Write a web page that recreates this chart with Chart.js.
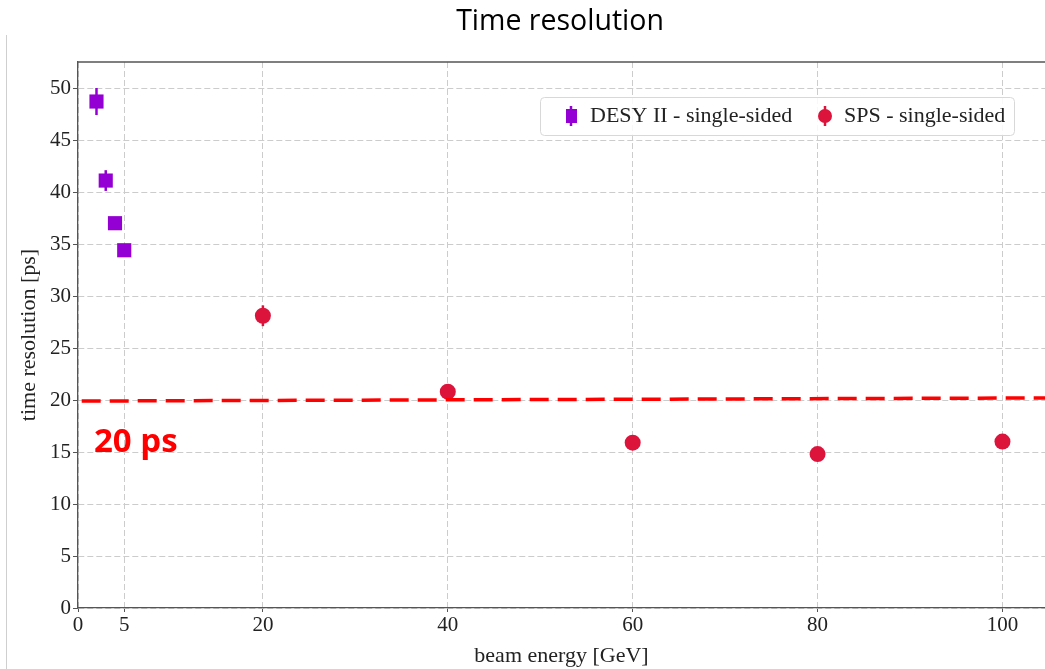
<!DOCTYPE html>
<html>
<head>
<meta charset="utf-8">
<script src="https://cdn.jsdelivr.net/npm/chart.js@4.4.0/dist/chart.umd.min.js"></script>
<style>
html, body { margin: 0; padding: 0; background: #fff; overflow: hidden; }
#wrap { width: 1045px; height: 669px; position: relative; }
</style>
</head>
<body>
<div id="wrap"><canvas id="myChart"></canvas></div>
<script>
// data
var desyEnergy = [2, 3, 4, 5];
var desyRes = [48.7, 41.1, 37.0, 34.4];
var desyErr = [1.3, 1.0, 0.4, 0.4];
var spsEnergy = [20, 40, 60, 80, 100];
var spsRes = [28.1, 20.8, 15.9, 14.8, 16.0];
var spsErr = [1.0, 0.5, 0.4, 0.4, 0.4];
var limitEnergy = [0.4, 104.6];
var limitRes = [19.9, 20.2];
var xTicks = [0, 5, 20, 40, 60, 80, 100];
var yTicks = [0, 5, 10, 15, 20, 25, 30, 35, 40, 45, 50];

var desyColor = "#9400d3";
var spsColor = "#dc143c";
var serif = "'Liberation Serif', 'DejaVu Serif', serif";

function pts(xs, ys) {
  return xs.map(function (x, i) { return { x: x, y: ys[i] }; });
}

var extras = {
  id: "extras",
  beforeDraw: function (chart) {
    var ctx = chart.ctx;
    ctx.save();
    // slide edge line
    ctx.strokeStyle = "#cfcfcf";
    ctx.lineWidth = 1;
    ctx.beginPath();
    ctx.moveTo(6.5, 35);
    ctx.lineTo(6.5, 669);
    ctx.stroke();
    // title
    ctx.fillStyle = "#000";
    ctx.font = "28.5px 'Open Sans', sans-serif";
    ctx.textAlign = "center";
    ctx.textBaseline = "middle";
    ctx.fillText("Time resolution", 560, 22);
    ctx.restore();
  },
  beforeDatasetsDraw: function (chart) {
    var ctx = chart.ctx;
    var xs = chart.scales.x, ys = chart.scales.y;
    ctx.save();
    ctx.lineWidth = 2.5;
    [[desyEnergy, desyRes, desyErr, desyColor], [spsEnergy, spsRes, spsErr, spsColor]].forEach(function (s) {
      ctx.strokeStyle = s[3];
      s[0].forEach(function (e, i) {
        var px = xs.getPixelForValue(e);
        ctx.beginPath();
        ctx.moveTo(px, ys.getPixelForValue(s[1][i] - s[2][i]));
        ctx.lineTo(px, ys.getPixelForValue(s[1][i] + s[2][i]));
        ctx.stroke();
      });
    });
    ctx.restore();
  },
  afterDraw: function (chart) {
    var ctx = chart.ctx;
    var a = chart.chartArea;
    ctx.save();
    // top frame line
    ctx.strokeStyle = "#555";
    ctx.lineWidth = 1.3;
    ctx.beginPath();
    ctx.moveTo(a.left, a.top);
    ctx.lineTo(a.right, a.top);
    ctx.stroke();

    // legend
    ctx.fillStyle = "rgba(255,255,255,0.85)";
    ctx.strokeStyle = "#d8d8d8";
    ctx.lineWidth = 1;
    ctx.beginPath();
    ctx.roundRect(540.5, 97.5, 474, 38, 4);
    ctx.fill();
    ctx.stroke();

    ctx.font = "22px " + serif;
    ctx.textBaseline = "middle";
    ctx.textAlign = "left";
    var ly = 116;
    // DESY entry
    ctx.fillStyle = desyColor;
    ctx.strokeStyle = desyColor;
    ctx.lineWidth = 2.5;
    ctx.beginPath(); ctx.moveTo(571, ly - 10); ctx.lineTo(571, ly + 10); ctx.stroke();
    ctx.fillRect(566, ly - 7, 11, 14);
    ctx.fillStyle = "#222";
    ctx.fillText(chart.data.datasets[0].label, 590, ly);
    // SPS entry
    ctx.fillStyle = spsColor;
    ctx.strokeStyle = spsColor;
    ctx.beginPath(); ctx.moveTo(825, ly - 10); ctx.lineTo(825, ly + 10); ctx.stroke();
    ctx.beginPath(); ctx.arc(825, ly, 7, 0, Math.PI * 2); ctx.fill();
    ctx.fillStyle = "#222";
    ctx.fillText(chart.data.datasets[1].label, 844, ly);

    // 20 ps label
    ctx.fillStyle = "#ff0000";
    ctx.font = "bold 33px 'Open Sans', sans-serif";
    ctx.textBaseline = "alphabetic";
    ctx.fillText("20 ps", 94, 452);
    ctx.restore();
  }
};

new Chart("myChart", {
  type: "scatter",
  data: {
    datasets: [
      {
        label: "DESY II - single-sided",
        data: pts(desyEnergy, desyRes),
        pointStyle: "rect",
        pointRadius: 10,
        pointHoverRadius: 10,
        backgroundColor: desyColor,
        borderColor: desyColor,
        borderWidth: 0,
        order: 2
      },
      {
        label: "SPS - single-sided",
        data: pts(spsEnergy, spsRes),
        pointStyle: "circle",
        pointRadius: 8,
        pointHoverRadius: 8,
        backgroundColor: spsColor,
        borderColor: spsColor,
        borderWidth: 0,
        order: 2
      },
      {
        label: "20 ps",
        type: "line",
        data: pts(limitEnergy, limitRes),
        borderColor: "#ff0000",
        borderWidth: 3.5,
        borderDash: [19, 9],
        pointRadius: 0,
        fill: false,
        order: 1
      }
    ]
  },
  options: {
    responsive: true,
    maintainAspectRatio: false,
    animation: false,
    layout: { autoPadding: false, padding: { top: 62, right: 0, left: 0, bottom: 0 } },
    plugins: {
      legend: { display: false },
      tooltip: { enabled: false },
      title: { display: false }
    },
    scales: {
      x: {
        type: "linear",
        min: 0,
        max: 104.6,
        afterBuildTicks: function (scale) {
          scale.ticks = xTicks.map(function (v) { return { value: v }; });
        },
        afterFit: function (scale) {
          scale.height = 61;
          scale.paddingRight = 0;
          scale.paddingLeft = 0;
        },
        ticks: {
          color: "#222",
          font: { family: serif, size: 21 },
          padding: 1,
          maxRotation: 0,
          autoSkip: false
        },
        grid: {
          color: "#cccccc",
          tickColor: "#555",
          tickLength: 4,
          tickBorderDash: [],
          lineWidth: 1
        },
        border: { color: "#555", width: 1.3, dash: [6, 3] },
        title: {
          display: true,
          text: "beam energy [GeV]",
          color: "#222",
          font: { family: serif, size: 22 },
          padding: { top: 0, bottom: 0 }
        }
      },
      y: {
        type: "linear",
        min: 0,
        max: 52.5,
        afterBuildTicks: function (scale) {
          scale.ticks = yTicks.map(function (v) { return { value: v }; });
        },
        afterFit: function (scale) {
          scale.width = 78;
          scale.paddingTop = 0;
          scale.paddingBottom = 0;
        },
        ticks: {
          color: "#222",
          font: { family: serif, size: 21 },
          padding: 2
        },
        grid: {
          color: "#cccccc",
          tickColor: "#555",
          tickLength: 5,
          tickBorderDash: [],
          lineWidth: 1
        },
        border: { color: "#555", width: 1.3, dash: [6, 3] },
        title: {
          display: true,
          text: "time resolution [ps]",
          color: "#222",
          font: { family: serif, size: 22 },
          padding: { top: 16, bottom: 0 }
        }
      }
    }
  },
  plugins: [extras]
});
</script>
</body>
</html>
